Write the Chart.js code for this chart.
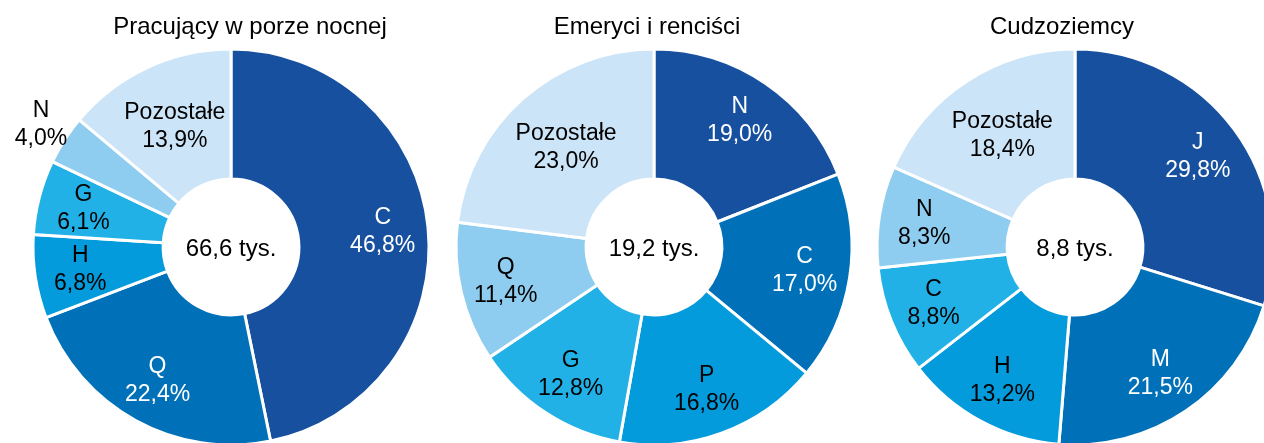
<!DOCTYPE html>
<html>
<head>
<meta charset="utf-8">
<script src="https://cdn.jsdelivr.net/npm/chart.js@4"></script>
<style>
  html, body { margin: 0; padding: 0; background: #fff; overflow: hidden; width: 1264px; height: 443px; }
  .box { position: absolute; top: 0; height: 443px; }
</style>
</head>
<body>
<div class="box" style="left:0px;width:462px"><canvas id="night"></canvas></div>
<div class="box" style="left:444px;width:420px"><canvas id="retired"></canvas></div>
<div class="box" style="left:865px;width:420px"><canvas id="foreign"></canvas></div>
<script>
// Dane
const titles = ['Pracujący w porze nocnej', 'Emeryci i renciści', 'Cudzoziemcy'];
const totals = ['66,6 tys.', '19,2 tys.', '8,8 tys.'];

const nightLabels = ['C', 'Q', 'H', 'G', 'N', 'Pozostałe'];
const nightValues = [46.8, 22.4, 6.8, 6.1, 4.0, 13.9];

const retiredLabels = ['N', 'C', 'P', 'G', 'Q', 'Pozostałe'];
const retiredValues = [19.0, 17.0, 16.8, 12.8, 11.4, 23.0];

const foreignLabels = ['J', 'M', 'H', 'C', 'N', 'Pozostałe'];
const foreignValues = [29.8, 21.5, 13.2, 8.8, 8.3, 18.4];

const sliceColors = ['#16509f', '#0071b9', '#039bdc', '#21b1e6', '#8fcdf0', '#cce4f7'];
const FONT = '23px "Liberation Sans", Arial, sans-serif';
const TITLE_FONT = '24px "Liberation Sans", Arial, sans-serif';

function fmt(v) {
    return v.toFixed(1).replace('.', ',') + '%';
}

// Etykiety wycinków, tekst w środku i tytuł
const sliceLabels = {
    id: 'sliceLabels',
    afterDatasetsDraw(chart, args, opts) {
        const ctx = chart.ctx;
        const meta = chart.getDatasetMeta(0);
        const values = chart.data.datasets[0].data;
        const last = values.length - 1;
        ctx.save();
        ctx.font = FONT;
        ctx.textAlign = 'center';
        ctx.textBaseline = 'middle';
        meta.data.forEach((arc, i) => {
            const p = arc.getProps(['x', 'y', 'startAngle', 'endAngle', 'innerRadius', 'outerRadius']);
            const mid = (p.startAngle + p.endAngle) / 2;
            const outside = values[i] < 5;
            let r = p.innerRadius + 0.65 * (p.outerRadius - p.innerRadius);
            if (i === last) r = (p.innerRadius + p.outerRadius) / 2;
            if (outside) r = p.outerRadius + 28;
            const x = p.x + Math.cos(mid) * r;
            const y = p.y + Math.sin(mid) * r;
            ctx.fillStyle = (!outside && i < 2) ? '#fff' : '#000';
            ctx.fillText(chart.data.labels[i], x, y - 14);
            ctx.fillText(fmt(values[i]), x, y + 14);
        });
        const c = meta.data[0];
        ctx.fillStyle = '#000';
        ctx.font = TITLE_FONT;
        ctx.fillText(opts.total, c.x, c.y + 2);
        ctx.fillText(opts.title, c.x + opts.titleShift, 27);
        ctx.restore();
    }
};

function makeChart(id, labels, values, title, total, titleShift) {
    return new Chart(document.getElementById(id), {
        type: 'doughnut',
        data: {
            labels: labels,
            datasets: [{
                data: values,
                backgroundColor: sliceColors,
                borderColor: '#fff',
                borderWidth: 3,
                radius: 198,
                cutout: '34.3%',
                clip: false
            }]
        },
        options: {
            responsive: true,
            maintainAspectRatio: false,
            animation: false,
            layout: { padding: { top: 51, bottom: 0 } },
            plugins: {
                legend: { display: false },
                tooltip: { enabled: false },
                sliceLabels: { title: title, total: total, titleShift: titleShift }
            }
        },
        plugins: [sliceLabels]
    });
}

makeChart('night', nightLabels, nightValues, titles[0], totals[0], 19);
makeChart('retired', retiredLabels, retiredValues, titles[1], totals[1], -7);
makeChart('foreign', foreignLabels, foreignValues, titles[2], totals[2], -13);
</script>
</body>
</html>
